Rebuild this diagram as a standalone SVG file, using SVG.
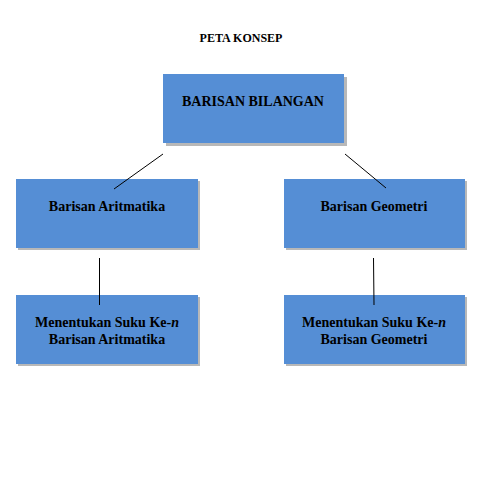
<svg xmlns="http://www.w3.org/2000/svg" width="492" height="487" viewBox="0 0 492 487">
<style>
.box{fill:#558ed5}
.sh{fill:#b8b8b8}
.t{font-family:"Liberation Serif",serif;font-weight:bold;font-size:14px;fill:#000;text-anchor:middle}
.c{stroke:#000;stroke-width:1;fill:none}
</style>
<rect width="492" height="487" fill="#fff"/>
<text class="t" x="241" y="42" style="font-size:12px">PETA KONSEP</text>
<g id="n-barisan-bilangan">
<rect class="sh" x="166" y="77" width="181" height="69"/>
<rect class="box" x="163" y="74" width="181" height="69"/>
<text class="t" x="253" y="106">BARISAN BILANGAN</text>
</g>
<g id="n-aritmatika">
<rect class="sh" x="18" y="181" width="182" height="69"/>
<rect class="box" x="16" y="179" width="182" height="69"/>
<text class="t" x="107" y="211">Barisan Aritmatika</text>
</g>
<g id="n-geometri">
<rect class="sh" x="286" y="181" width="181" height="69"/>
<rect class="box" x="284" y="179" width="181" height="69"/>
<text class="t" x="374" y="211">Barisan Geometri</text>
</g>
<g id="n-suku-aritmatika">
<rect class="sh" x="18" y="297" width="182" height="69"/>
<rect class="box" x="16" y="295" width="182" height="69"/>
<text class="t" x="107" y="327">Menentukan Suku Ke-<tspan font-style="italic">n</tspan></text>
<text class="t" x="107" y="344">Barisan Aritmatika</text>
</g>
<g id="n-suku-geometri">
<rect class="sh" x="286" y="297" width="181" height="69"/>
<rect class="box" x="284" y="295" width="181" height="69"/>
<text class="t" x="374" y="327">Menentukan Suku Ke-<tspan font-style="italic">n</tspan></text>
<text class="t" x="374" y="344">Barisan Geometri</text>
</g>
<g id="connectors">
<line class="c" x1="163" y1="154" x2="114" y2="189"/>
<line class="c" x1="345" y1="154" x2="386" y2="188"/>
<line class="c" x1="99.5" y1="258" x2="99.5" y2="305"/>
<line class="c" x1="373.5" y1="258" x2="374" y2="305"/>
</g>
</svg>
